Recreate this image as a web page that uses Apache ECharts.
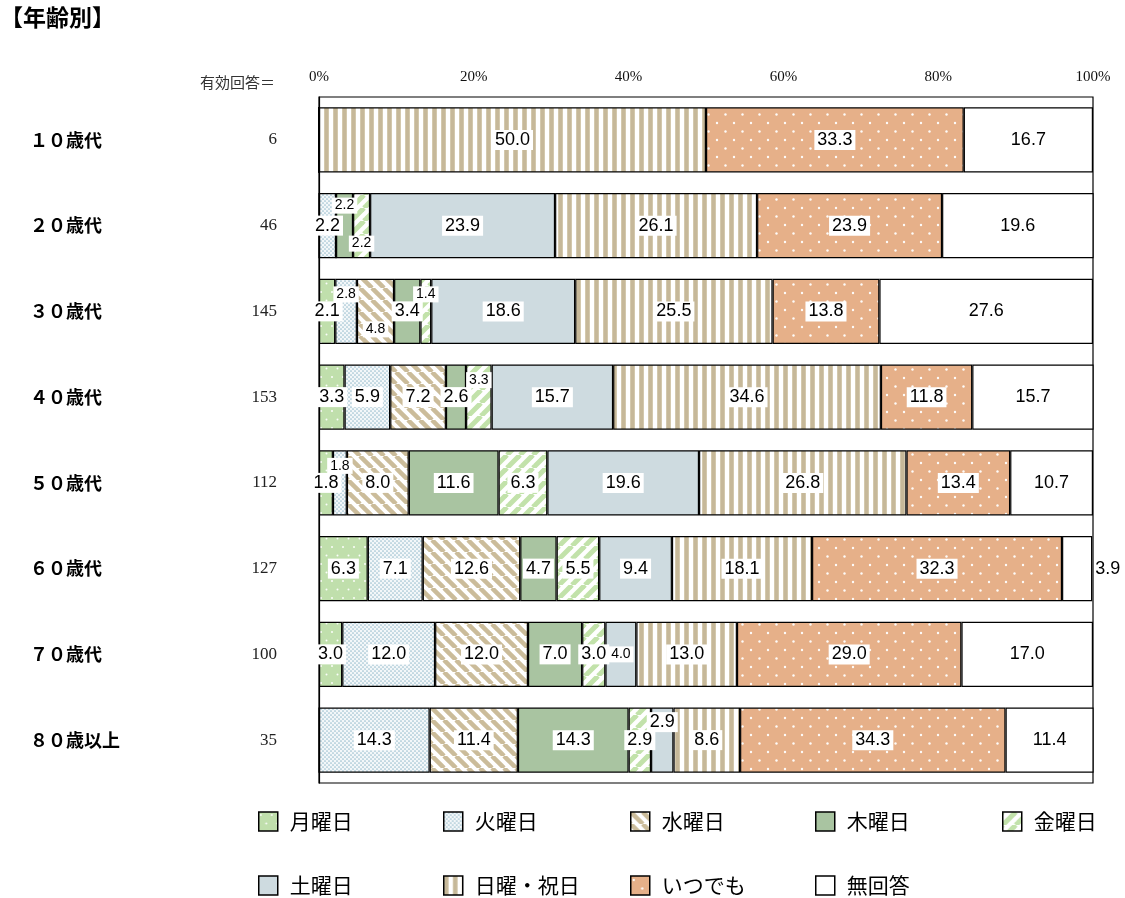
<!DOCTYPE html>
<html>
<head>
<meta charset="utf-8">
<script src="https://cdn.jsdelivr.net/npm/echarts@6/dist/echarts.min.js"></script>
<style>
  html, body { margin: 0; padding: 0; background: #fff; }
  #main { width: 1125px; height: 898px; }
</style>
</head>
<body>
<div id="main"></div>
<script>
// 年齢別の回答（横積み上げ 100%）
const categories = ['１０歳代', '２０歳代', '３０歳代', '４０歳代', '５０歳代', '６０歳代', '７０歳代', '８０歳以上']
const nValues = [6, 46, 145, 153, 112, 127, 100, 35]
const seriesNames = ['月曜日', '火曜日', '水曜日', '木曜日', '金曜日', '土曜日', '日曜・祝日', 'いつでも', '無回答']
const mon = [0, 0, 2.1, 3.3, 1.8, 6.3, 3.0, 0]
const tue = [0, 2.2, 2.8, 5.9, 1.8, 7.1, 12.0, 14.3]
const wed = [0, 0, 4.8, 7.2, 8.0, 12.6, 12.0, 11.4]
const thu = [0, 2.2, 3.4, 2.6, 11.6, 4.7, 7.0, 14.3]
const fri = [0, 2.2, 1.4, 3.3, 6.3, 5.5, 3.0, 2.9]
const sat = [0, 23.9, 18.6, 15.7, 19.6, 9.4, 4.0, 2.9]
const sun = [50.0, 26.1, 25.5, 34.6, 26.8, 18.1, 13.0, 8.6]
const anytime = [33.3, 23.9, 13.8, 11.8, 13.4, 32.3, 29.0, 34.3]
const noAnswer = [16.7, 19.6, 27.6, 15.7, 10.7, 3.9, 17.0, 11.4]
const allValues = [mon, tue, wed, thu, fri, sat, sun, anytime, noAnswer]
const xTicks = [0, 20, 40, 60, 80, 100]

// 小さい区間のラベル位置調整 [系列, カテゴリ, dy, fontSize]
const labelAdjust = [
    [3, 1, -20, 14], [4, 1, 18, 14],
    [1, 2, -17, 14], [2, 2, 18, 14], [4, 2, -17, 14],
    [4, 3, -17, 14],
    [1, 4, -17, 14],
    [5, 6, 0, 14],
    [5, 7, -18, 18]
]

// パターン作成
const makePattern = (w, h, draw) => {
    const c = document.createElement('canvas')
    c.width = w
    c.height = h
    const ctx = c.getContext('2d')
    draw(ctx, w, h)
    return { image: c, repeat: 'repeat' }
}
const dots = (bg, fg, pts, r) => (ctx, w, h) => {
    ctx.fillStyle = bg
    ctx.fillRect(0, 0, w, h)
    ctx.fillStyle = fg
    pts.forEach(p => { ctx.beginPath(); ctx.arc(p[0], p[1], r, 0, Math.PI * 2); ctx.fill() })
}
const diag = (fg, dir, lw) => (ctx, w, h) => {
    ctx.fillStyle = '#fff'
    ctx.fillRect(0, 0, w, h)
    ctx.strokeStyle = fg
    ctx.lineWidth = lw
    for (let k = -1; k <= 1; k++) {
        ctx.beginPath()
        if (dir > 0) { ctx.moveTo(k * w, h); ctx.lineTo(k * w + w, 0) }
        else { ctx.moveTo(k * w, 0); ctx.lineTo(k * w + w, h) }
        ctx.stroke()
    }
}
const fills = [
    makePattern(11, 17, dots('#c0dfac', 'rgba(255,255,255,0.95)', [[2, 3], [7.5, 11.5]], 1)),
    makePattern(4, 4, dots('#f3f7f9', '#9cbfcf', [[1, 1], [3, 3]], 0.85)),
    makePattern(12, 12, diag('#cbbc9a', -1, 4.5)),
    '#a9c4a1',
    makePattern(13, 13, diag('#c2e2aa', 1, 5)),
    '#cedbe0',
    makePattern(9, 4, (ctx) => {
        ctx.fillStyle = '#fff'
        ctx.fillRect(0, 0, 9, 4)
        ctx.fillStyle = '#d3c8ad'
        ctx.fillRect(0, 0, 5, 4)
        ctx.fillStyle = '#c6b899'
        ctx.fillRect(1, 0, 3, 4)
    }),
    makePattern(17, 17, dots('#e6b089', 'rgba(255,255,255,0.95)', [[3, 4], [11.5, 12.5]], 1.2)),
    '#ffffff'
]

const labelBase = {
    show: true,
    position: 'inside',
    color: '#000',
    fontSize: 18,
    fontFamily: 'Liberation Sans, Arial, sans-serif',
    backgroundColor: '#fff',
    padding: [2, 3, 0, 3],
    formatter: (p) => p.value.toFixed(1)
}

const buildData = (si) => allValues[si].map((v, ci) => {
    const item = { value: v }
    if (v === 0) {
        item.label = { show: false }
        return item
    }
    const adj = labelAdjust.find(a => a[0] === si && a[1] === ci)
    if (adj) item.label = { offset: [0, adj[2]], fontSize: adj[3] }
    // 60歳代の無回答は枠外右
    if (si === 8 && ci === 5) item.label = { position: 'right', distance: 3, backgroundColor: 'transparent', padding: 0 }
    return item
})

const series = seriesNames.map((name, si) => ({
    name,
    type: 'bar',
    stack: 'total',
    barCategoryGap: '24%',
    itemStyle: { color: fills[si], borderColor: '#000', borderWidth: 1.2 },
    label: labelBase,
    emphasis: { disabled: true },
    data: buildData(si)
}))

const legendLeft = [258, 443, 630, 815, 1002, 258, 443, 630, 815]
const legendTop = [811, 811, 811, 811, 811, 875, 875, 875, 875]
const legends = seriesNames.map((name, i) => ({
    data: [name],
    left: legendLeft[i],
    top: legendTop[i],
    padding: 0,
    icon: 'rect',
    itemWidth: 19,
    itemHeight: 19,
    selectedMode: false,
    itemStyle: { borderColor: '#000', borderWidth: 1.5 },
    textStyle: { fontSize: 21, color: '#000', fontFamily: 'Noto Sans CJK JP', padding: [0, 0, 0, 7] }
}))

const chart = echarts.init(document.getElementById('main'))
chart.setOption({
    animation: false,
    backgroundColor: '#fff',
    grid: { left: 319, right: 32, top: 97, bottom: 115, show: true, borderColor: '#000', borderWidth: 1.2 },
    legend: legends,
    xAxis: {
        type: 'value',
        position: 'top',
        min: xTicks[0],
        max: xTicks[xTicks.length - 1],
        interval: 20,
        axisLine: { show: false },
        axisTick: { show: false },
        splitLine: { show: false },
        axisLabel: { formatter: '{value}%', margin: 12, fontSize: 15, color: '#111', fontFamily: 'Liberation Serif, serif' }
    },
    yAxis: [
        {
            type: 'category',
            data: categories,
            inverse: true,
            axisLine: { show: true, lineStyle: { color: '#000', width: 1.2 } },
            axisTick: { show: false },
            axisLabel: { align: 'left', margin: 289, fontSize: 18, fontWeight: 'bold', color: '#000', fontFamily: 'Noto Sans CJK JP' }
        },
        {
            type: 'category',
            data: categories,
            inverse: true,
            position: 'left',
            axisLine: { show: false },
            axisTick: { show: false },
            axisLabel: {
                align: 'right',
                margin: 42,
                fontSize: 17,
                color: '#222',
                fontFamily: 'Liberation Serif, serif',
                formatter: (v, i) => String(nValues[i])
            }
        }
    ],
    graphic: [
        { type: 'text', left: 0, top: 6, style: { text: '【年齢別】', fontSize: 23, fontWeight: 'bold', fill: '#000', fontFamily: 'Noto Sans CJK JP' } },
        { type: 'text', right: 850, top: 75, style: { text: '有効回答＝', fontSize: 15, fill: '#333', fontFamily: 'Noto Sans CJK JP' } }
    ],
    series
})
</script>
</body>
</html>
